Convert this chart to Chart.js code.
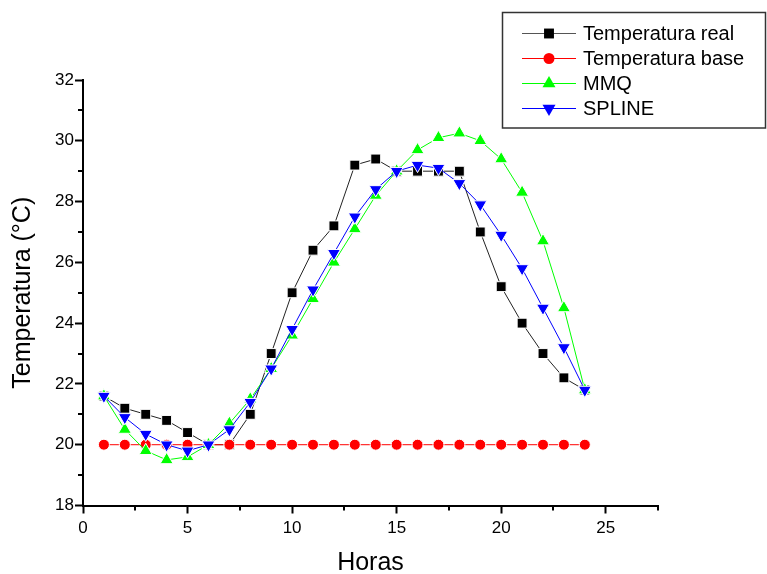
<!DOCTYPE html>
<html lang="pt-BR">
<head>
<meta charset="utf-8">
<title>Temperatura x Horas</title>
<script src="https://cdn.jsdelivr.net/npm/chart.js@4.4.1/dist/chart.umd.min.js"></script>
<style>
  html, body { margin: 0; padding: 0; background: #fff; }
</style>
</head>
<body>
<canvas id="grafico" width="767" height="574"></canvas>
<script>
// Dados (horas do dia x temperatura em °C)
const horas = [1, 2, 3, 4, 5, 6, 7, 8, 9, 10, 11, 12, 13, 14, 15, 16, 17, 18, 19, 20, 21, 22, 23, 24];
const tempReal = [21.6, 21.2, 21.0, 20.8, 20.4, 20.0, 20.0, 21.0, 23.0, 25.0, 26.4, 27.2,
                  29.2, 29.4, 29.0, 29.0, 29.0, 29.0, 27.0, 25.2, 24.0, 23.0, 22.2, 21.8];
const tempBase = [20, 20, 20, 20, 20, 20, 20, 20, 20, 20, 20, 20,
                  20, 20, 20, 20, 20, 20, 20, 20, 20, 20, 20, 20];
const mmq = [21.6, 20.5, 19.8, 19.5, 19.6, 20.0, 20.7, 21.5, 22.5, 23.6, 24.8, 26.0,
             27.1, 28.2, 29.0, 29.7, 30.1, 30.25, 30.0, 29.4, 28.3, 26.7, 24.5, 21.8];
const spline = [21.6, 20.9, 20.35, 20.0, 19.8, 20.0, 20.5, 21.4, 22.5, 23.8, 25.1, 26.3,
                27.5, 28.4, 29.0, 29.2, 29.1, 28.6, 27.9, 26.9, 25.8, 24.5, 23.2, 21.8];

// Marcas menores dos eixos (sem rótulo)
const xMinor = [2.5, 7.5, 12.5, 17.5, 22.5, 27.5];
const yMinor = [19, 21, 23, 25, 27, 29, 31];

const FONTE = '"Liberation Sans", Arial, Helvetica, sans-serif';
Chart.defaults.font.family = FONTE;
Chart.defaults.color = '#000';

function pontos(valores) {
    return horas.map((h, i) => ({ x: h, y: valores[i] }));
}

// Desenha as marcas menores nos dois eixos
const minorTicksPlugin = {
    id: 'minorTicks',
    afterDraw(chart) {
        const ctx = chart.ctx;
        const sx = chart.scales.x;
        const sy = chart.scales.y;
        ctx.save();
        ctx.strokeStyle = '#000';
        ctx.lineWidth = 2;
        ctx.beginPath();
        xMinor.forEach(v => {
            const px = Math.round(sx.getPixelForValue(v));
            ctx.moveTo(px, sx.top);
            ctx.lineTo(px, sx.top + 5);
        });
        yMinor.forEach(v => {
            const py = Math.round(sy.getPixelForValue(v));
            ctx.moveTo(sy.right, py);
            ctx.lineTo(sy.right - 5, py);
        });
        ctx.stroke();
        ctx.restore();
    }
};

// Legenda em caixa no canto superior direito, como no Origin
const legendaPlugin = {
    id: 'legendaCaixa',
    afterDraw(chart) {
        const ctx = chart.ctx;
        ctx.save();
        ctx.strokeStyle = '#333';
        ctx.lineWidth = 1.5;
        ctx.strokeRect(502.5, 12.5, 263, 115.5);
        chart.data.datasets.forEach((ds, i) => {
            const yy = 33.5 + i * 25;
            ctx.strokeStyle = ds.legendLine || ds.borderColor;
            ctx.lineWidth = 1;
            ctx.beginPath();
            ctx.moveTo(522, yy);
            ctx.lineTo(576, yy);
            ctx.stroke();
            ctx.fillStyle = ds.pointBackgroundColor;
            ctx.strokeStyle = ds.pointBackgroundColor;
            Chart.helpers.drawPoint(ctx, {
                pointStyle: ds.pointStyle,
                rotation: ds.pointRotation || 0,
                radius: ds.pointRadius,
                borderWidth: 0
            }, 549, yy);
            ctx.fillStyle = '#000';
            ctx.font = '20px ' + FONTE;
            ctx.textBaseline = 'middle';
            ctx.textAlign = 'left';
            ctx.fillText(ds.label, 583, yy + 1);
        });
        ctx.restore();
    }
};

const ctx = document.getElementById('grafico').getContext('2d');
new Chart(ctx, {
    type: 'line',
    data: {
        datasets: [
            {
                label: 'Temperatura real',
                data: pontos(tempReal),
                borderColor: '#222',
                legendLine: '#555',
                borderWidth: 1,
                pointStyle: 'rect',
                pointRadius: 7,
                pointBackgroundColor: '#000',
                pointBorderColor: '#fff',
                pointBorderWidth: 1,
                order: 4
            },
            {
                label: 'Temperatura base',
                data: pontos(tempBase),
                borderColor: '#ff0000',
                borderWidth: 1,
                pointStyle: 'circle',
                pointRadius: 5.5,
                pointBackgroundColor: '#ff0000',
                pointBorderColor: '#fff',
                pointBorderWidth: 1,
                order: 3
            },
            {
                label: 'MMQ',
                data: pontos(mmq),
                borderColor: '#00ff00',
                borderWidth: 1,
                pointStyle: 'triangle',
                pointRadius: 7.5,
                pointBackgroundColor: '#00ff00',
                pointBorderColor: '#fff',
                pointBorderWidth: 1,
                order: 2
            },
            {
                label: 'SPLINE',
                data: pontos(spline),
                borderColor: '#0000ff',
                borderWidth: 1,
                pointStyle: 'triangle',
                pointRotation: 180,
                pointRadius: 7.5,
                pointBackgroundColor: '#0000ff',
                pointBorderColor: '#fff',
                pointBorderWidth: 1,
                order: 1
            }
        ]
    },
    options: {
        responsive: false,
        animation: false,
        layout: { padding: { top: 80, right: 109, left: 0, bottom: 0 } },
        plugins: {
            legend: { display: false },
            tooltip: { enabled: false }
        },
        scales: {
            x: {
                type: 'linear',
                min: 0,
                max: 27.5,
                afterFit: s => { s.height = 68.5; },
                border: { color: '#000', width: 2 },
                grid: { drawOnChartArea: false, tickLength: 8, tickWidth: 2, tickColor: '#000' },
                ticks: { stepSize: 5, includeBounds: false, padding: 5, font: { size: 17 }, maxRotation: 0 },
                title: { display: true, text: 'Horas', font: { size: 25, lineHeight: 0.9 }, padding: 0 }
            },
            y: {
                min: 18,
                max: 32,
                afterFit: s => { s.width = 83; },
                border: { color: '#000', width: 2 },
                grid: { drawOnChartArea: false, tickLength: 8, tickWidth: 2, tickColor: '#000' },
                ticks: { stepSize: 2, padding: 1, font: { size: 17 } },
                title: { display: true, text: 'Temperatura (°C)', font: { size: 25, lineHeight: 0.9 }, padding: { top: 12, bottom: 0 } }
            }
        }
    },
    plugins: [minorTicksPlugin, legendaPlugin]
});
</script>
</body>
</html>
